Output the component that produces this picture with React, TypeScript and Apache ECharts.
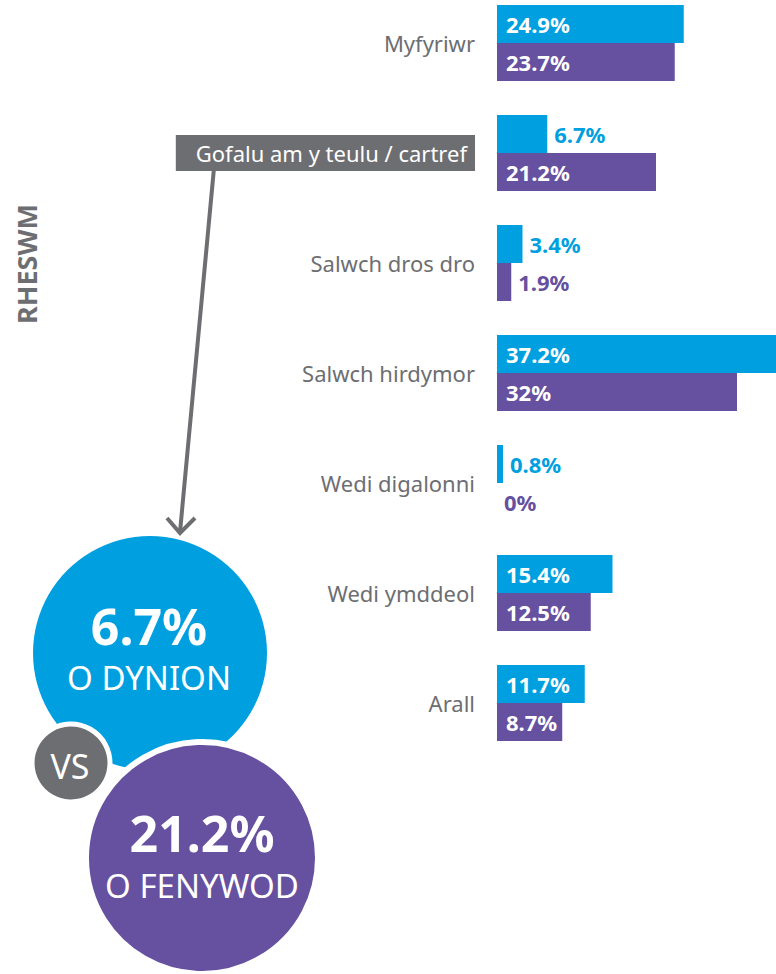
import React, { useEffect, useRef } from "react";
import * as echarts from "echarts";

const categories = [
  "Myfyriwr",
  "Gofalu am y teulu / cartref",
  "Salwch dros dro",
  "Salwch hirdymor",
  "Wedi digalonni",
  "Wedi ymddeol",
  "Arall",
];
const menValues = [24.9, 6.7, 3.4, 37.2, 0.8, 15.4, 11.7];
const womenValues = [23.7, 21.2, 1.9, 32, 0, 12.5, 8.7];
const highlightCategory = "Gofalu am y teulu / cartref";
const axisTitle = "RHESWM";
const menHeadline = "6.7%";
const menCaption = "O DYNION";
const womenHeadline = "21.2%";
const womenCaption = "O FENYWOD";
const vsText = "VS";

const BLUE = "#009fe0";
const PURPLE = "#6650a0";
const GREY = "#6d6e71";
const FONT = "'Noto Sans', sans-serif";

function buildData(values: number[], color: string) {
  return values.map((v) => {
    const outside = v < 8;
    return {
      value: v,
      label: outside
        ? { position: "right", distance: 7, color }
        : { position: "insideLeft", distance: 9, color: "#fff" },
    };
  });
}

export default function App() {
  const ref = useRef<HTMLDivElement>(null);
  useEffect(() => {
    document.body.style.margin = "0";
    if (!ref.current) return;
    const chart = echarts.init(ref.current, null, { renderer: "svg" });
    const labelBase = {
      show: true,
      formatter: "{c}%",
      fontFamily: FONT,
      fontWeight: "bold",
      fontSize: 22,
    };
    chart.setOption({
      animation: false,
      grid: { left: 497, right: 0, top: 43, height: 660 },
      xAxis: { type: "value", min: 0, max: 37.2, show: false },
      yAxis: {
        type: "category",
        data: categories,
        inverse: true,
        boundaryGap: false,
        axisLine: { show: false },
        axisTick: { show: false },
        splitLine: { show: false },
        axisLabel: {
          margin: 22,
          fontSize: 22,
          fontFamily: FONT,
          color: GREY,
          formatter: (v: string) => (v === highlightCategory ? `{box|${v}}` : v),
          rich: {
            box: {
              backgroundColor: GREY,
              color: "#fff",
              fontSize: 22,
              fontFamily: FONT,
              padding: [7, 8, 7, 20],
            },
          },
        },
      },
      series: [
        {
          name: "Dynion",
          type: "bar",
          barWidth: 38,
          barGap: "0%",
          itemStyle: { color: BLUE },
          label: labelBase,
          data: buildData(menValues, BLUE),
        },
        {
          name: "Menywod",
          type: "bar",
          barWidth: 38,
          barGap: "0%",
          itemStyle: { color: PURPLE },
          label: labelBase,
          data: buildData(womenValues, PURPLE),
        },
      ],
      graphic: [
        {
          type: "text",
          x: 26,
          y: 264,
          rotation: Math.PI / 2,
          style: {
            text: axisTitle,
            fill: GREY,
            font: `bold 27px ${FONT}`,
            align: "center",
            verticalAlign: "middle",
          },
        },
        {
          type: "line",
          shape: { x1: 214, y1: 168, x2: 180, y2: 532 },
          style: { stroke: GREY, lineWidth: 4 },
        },
        {
          type: "polyline",
          shape: { points: [[167, 518], [180, 533], [195, 518]] },
          style: { stroke: GREY, lineWidth: 4, fill: null },
        },
        {
          type: "circle",
          shape: { cx: 150, cy: 653, r: 117 },
          style: { fill: BLUE },
        },
        {
          type: "circle",
          shape: { cx: 202, cy: 858, r: 116 },
          style: { fill: PURPLE, stroke: "#fff", lineWidth: 6 },
        },
        {
          type: "circle",
          shape: { cx: 71, cy: 763, r: 39 },
          style: { fill: GREY, stroke: "#fff", lineWidth: 5 },
        },
        {
          type: "text",
          x: 149,
          y: 626,
          style: {
            text: menHeadline,
            fill: "#fff",
            font: `bold 50px ${FONT}`,
            lineHeight: 44,
            align: "center",
            verticalAlign: "middle",
          },
        },
        {
          type: "text",
          x: 149,
          y: 677,
          style: {
            text: menCaption,
            fill: "#fff",
            font: `33px ${FONT}`,
            lineHeight: 30,
            align: "center",
            verticalAlign: "middle",
          },
        },
        {
          type: "text",
          x: 202,
          y: 833,
          style: {
            text: womenHeadline,
            fill: "#fff",
            font: `bold 50px ${FONT}`,
            lineHeight: 44,
            align: "center",
            verticalAlign: "middle",
          },
        },
        {
          type: "text",
          x: 202,
          y: 885,
          style: {
            text: womenCaption,
            fill: "#fff",
            font: `33px ${FONT}`,
            lineHeight: 30,
            align: "center",
            verticalAlign: "middle",
          },
        },
        {
          type: "text",
          x: 70,
          y: 766,
          style: {
            text: vsText,
            fill: "#fff",
            font: `34px ${FONT}`,
            align: "center",
            verticalAlign: "middle",
          },
        },
      ],
    });
    return () => chart.dispose();
  }, []);
  return <div ref={ref} style={{ width: 776, height: 974 }} />;
}
